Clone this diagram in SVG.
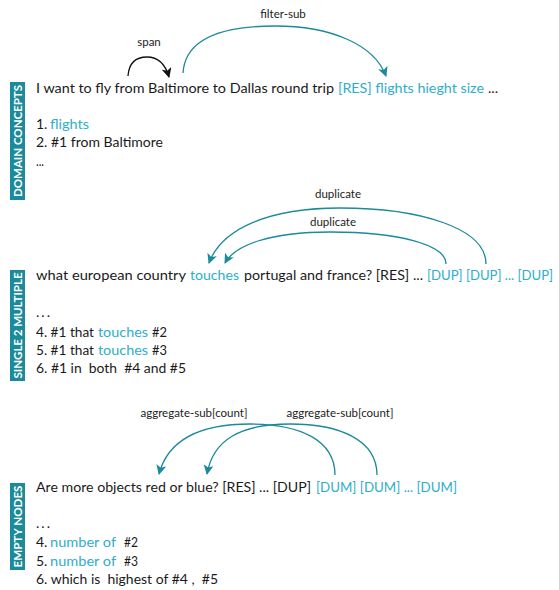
<svg xmlns="http://www.w3.org/2000/svg" width="559" height="590" viewBox="0 0 559 590">
<style>
text{font-family:Lato,"Open Sans","Liberation Sans",sans-serif;}
.t{font-size:14px;fill:#1a1a1a;}
.c{font-size:14px;fill:#2eaecb;}
.l{font-size:11.5px;fill:#222;text-anchor:middle;}
.side{font-size:11.5px;font-weight:bold;fill:#fff;text-anchor:middle;}
.box{fill:#1b8a9a;}
.arc{fill:none;stroke:#1b8a9b;stroke-width:1.3;}
.arcb{fill:none;stroke:#111;stroke-width:1.3;}
</style>
<defs>
<marker id="ah" viewBox="0 0 10 10" refX="9" refY="5" markerWidth="10" markerHeight="10" markerUnits="userSpaceOnUse" orient="auto">
<path d="M0,0 L10,5 L0,10 L2.5,5 z" fill="#1b8a9b"/>
</marker>
<marker id="ahb" viewBox="0 0 10 10" refX="9" refY="5" markerWidth="10" markerHeight="10" markerUnits="userSpaceOnUse" orient="auto">
<path d="M0,0 L10,5 L0,10 L2.5,5 z" fill="#111"/>
</marker>
</defs>

<g id="side-domain"><rect class="box" x="10" y="82" width="15" height="118"/><text class="side" transform="translate(17.5,141) rotate(-90)" y="4" textLength="112" lengthAdjust="spacingAndGlyphs">DOMAIN CONCEPTS</text></g>
<g id="side-single"><rect class="box" x="10" y="270" width="15" height="111"/><text class="side" transform="translate(17.5,325.5) rotate(-90)" y="4" textLength="106" lengthAdjust="spacingAndGlyphs">SINGLE 2 MULTIPLE</text></g>
<g id="side-empty"><rect class="box" x="10" y="483" width="15" height="87"/><text class="side" transform="translate(17.5,526.5) rotate(-90)" y="4" textLength="82" lengthAdjust="spacingAndGlyphs">EMPTY NODES</text></g>

<g id="sentence1">
<text class="t" x="36" y="93" textLength="298" lengthAdjust="spacingAndGlyphs">I want to fly from Baltimore to Dallas round trip</text>
<text class="c" x="338" y="93" textLength="146" lengthAdjust="spacingAndGlyphs">[RES] flights hieght size</text>
<text class="t" x="488" y="93" textLength="10" lengthAdjust="spacingAndGlyphs">...</text>
</g>
<g id="list1">
<text class="t" x="36" y="129">1.</text><text class="c" x="50" y="129" textLength="39" lengthAdjust="spacingAndGlyphs">flights</text>
<text class="t" x="36" y="147" textLength="127" lengthAdjust="spacingAndGlyphs">2. #1 from Baltimore</text>
<text class="t" x="36" y="166" textLength="8" lengthAdjust="spacingAndGlyphs">...</text>
</g>

<g id="sentence2">
<text class="t" x="36" y="280" textLength="150" lengthAdjust="spacingAndGlyphs">what european country</text>
<text class="c" x="190" y="280" textLength="49" lengthAdjust="spacingAndGlyphs">touches</text>
<text class="t" x="244" y="280" textLength="179" lengthAdjust="spacingAndGlyphs">portugal and france? [RES] ...</text>
<text class="c" x="427" y="280" style="font-size:13px" textLength="126" lengthAdjust="spacingAndGlyphs">[DUP] [DUP] ... [DUP]</text>
</g>
<g id="list2">
<text class="t" x="36" y="317" textLength="14" lengthAdjust="spacing">. . .</text>
<text class="t" x="36" y="337" textLength="58" lengthAdjust="spacingAndGlyphs">4. #1 that</text><text class="c" x="98" y="337" textLength="50" lengthAdjust="spacingAndGlyphs">touches</text><text class="t" x="152" y="337" textLength="15" lengthAdjust="spacingAndGlyphs">#2</text>
<text class="t" x="36" y="355" textLength="58" lengthAdjust="spacingAndGlyphs">5. #1 that</text><text class="c" x="98" y="355" textLength="50" lengthAdjust="spacingAndGlyphs">touches</text><text class="t" x="152" y="355" textLength="15" lengthAdjust="spacingAndGlyphs">#3</text>
<text class="t" x="36" y="373" textLength="150" lengthAdjust="spacingAndGlyphs" xml:space="preserve">6. #1 in  both  #4 and #5</text>
</g>

<g id="sentence3">
<text class="t" x="36" y="492" textLength="275" lengthAdjust="spacingAndGlyphs">Are more objects red or blue? [RES] ... [DUP]</text>
<text class="c" x="316" y="492" textLength="141" lengthAdjust="spacingAndGlyphs">[DUM] [DUM] ... [DUM]</text>
</g>
<g id="list3">
<text class="t" x="36" y="528" textLength="14" lengthAdjust="spacing">. . .</text>
<text class="t" x="36" y="547">4.</text><text class="c" x="50" y="547" textLength="66" lengthAdjust="spacingAndGlyphs">number of</text><text class="t" x="124" y="547" textLength="14" lengthAdjust="spacingAndGlyphs">#2</text>
<text class="t" x="36" y="566">5.</text><text class="c" x="50" y="566" textLength="66" lengthAdjust="spacingAndGlyphs">number of</text><text class="t" x="124" y="566" textLength="14" lengthAdjust="spacingAndGlyphs">#3</text>
<text class="t" x="36" y="584" textLength="182" lengthAdjust="spacingAndGlyphs" xml:space="preserve">6. which is  highest of #4 ,  #5</text>
</g>

<g id="connectors">
<path class="arcb" d="M128,76 C129,62 137,57 147,57 C157,57 165,63 169,77" marker-end="url(#ahb)"/>
<path class="arc" d="M183,73 C185,40 220,26 275,26 C330,26 374,44 386,76" marker-end="url(#ah)"/>
<path class="arc" d="M486,264 C486,228 420,208 340,208 C270,208 222,228 209,263" marker-end="url(#ah)"/>
<path class="arc" d="M446,264 C446,245 400,232 330,232 C270,232 235,245 225,263" marker-end="url(#ah)"/>
<path class="arc" d="M335,475 C335,440 300,424 250,424 C200,424 168,440 159,474" marker-end="url(#ah)"/>
<path class="arc" d="M377,475 C377,440 340,424 290,424 C240,424 213,440 207,474" marker-end="url(#ah)"/>
</g>
<g id="labels">
<text class="l" x="149" y="46">span</text>
<text class="l" x="283" y="18">filter-sub</text>
<text class="l" x="338" y="198">duplicate</text>
<text class="l" x="333" y="226">duplicate</text>
<text class="l" x="194" y="417">aggregate-sub[count]</text>
<text class="l" x="340" y="417">aggregate-sub[count]</text>
</g>
</svg>
